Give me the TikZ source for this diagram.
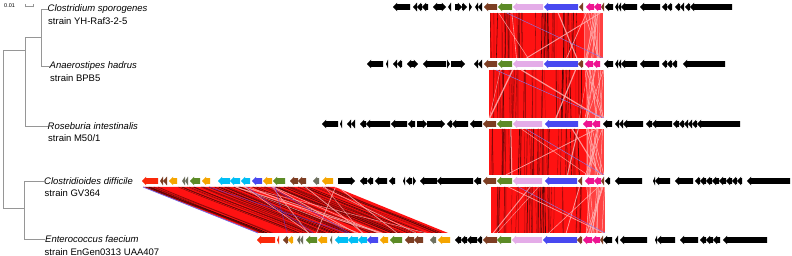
\documentclass[tikz,border=0pt]{standalone}
\usepackage{fontspec}
\setmainfont{Liberation Sans}
\definecolor{bk}{RGB}{0,0,0}
\definecolor{br}{RGB}{125,62,35}
\definecolor{gn}{RGB}{92,139,38}
\definecolor{lv}{RGB}{228,172,232}
\definecolor{bl}{RGB}{72,72,240}
\definecolor{mg}{RGB}{238,20,145}
\definecolor{og}{RGB}{245,165,0}
\definecolor{cy}{RGB}{0,190,245}
\definecolor{gy}{RGB}{110,112,95}
\definecolor{rd}{RGB}{250,40,10}
\definecolor{cmpred}{RGB}{255,18,18}
\definecolor{pinkline}{RGB}{255,175,175}
\definecolor{treegray}{RGB}{150,150,150}
\newcommand\gene[5]{%
 \pgfmathsetmacro\hl{min(4.2,#2-#1)}%
 \ifnum#3>0
  \fill[#4] (#2,#5) -- ++(-\hl,-4.4) -- ++(0,1.5) -- (#1,#5-2.9) -- (#1,#5+2.9) -- (#2-\hl,#5+2.9) -- ++(0,1.5) -- cycle;
 \else
  \fill[#4] (#1,#5) -- ++(\hl,-4.4) -- ++(0,1.5) -- (#2,#5-2.9) -- (#2,#5+2.9) -- (#1+\hl,#5+2.9) -- ++(0,1.5) -- cycle;
 \fi}
\newcommand\gtrack[2]{\foreach \a/\b/\d/\c in {#2} {\gene{\a}{\b}{\d}{\c}{#1}}}
\newcommand\cblock[4]{%
 \fill[cmpred] (#1,#3) rectangle (#2,#4);
 \fill[cmpred!80!white] (#2-18,#3) rectangle (#2,#4);
 \begin{scope}
 \clip (#1,#3) rectangle (#2,#4);
 \foreach \i in {1,...,38}{
   \pgfmathsetmacro\u{#1+rnd*(#2-#1-18)}
   \pgfmathsetmacro\v{\u+(rnd-0.5)*3}
   \pgfmathsetmacro\w{0.2+rnd*0.6}
   \pgfmathtruncatemacro\s{20+rnd*60}
   \draw[line width=\w pt, cmpred!\s!black] (\u,#3) -- (\v,#4);
 }
 \foreach \i in {1,...,12}{
   \pgfmathsetmacro\u{#2-19+rnd*19}
   \pgfmathsetmacro\v{#2-19+rnd*19}
   \draw[line width=0.5pt, pinkline] (\u,#3) -- (\v,#4);
 }
 \foreach \i in {1,...,5}{
   \pgfmathsetmacro\u{#1+rnd*(#2-#1)}
   \pgfmathsetmacro\v{#1+rnd*(#2-#1)}
   \pgfmathsetmacro\w{0.3+rnd*1.0}
   \draw[line width=\w pt, pinkline, opacity=0.85] (\u,#3) -- (\v,#4);
 }
 \draw[line width=0.4pt, bl!70!white] (#1+rnd*40,#3) -- (#2,#4);
 \end{scope}}
\begin{document}
\begin{tikzpicture}[x=1pt,y=-1pt,
  tree/.style={draw=treegray, line width=0.6pt},
  lbl/.style={anchor=west, inner sep=0pt, font=\fontsize{9.5}{11}\selectfont},
  sp/.style={lbl, font=\fontsize{9.5}{11}\selectfont\itshape}]
\useasboundingbox (0,0) rectangle (792,256);
\fill[white] (0,0) rectangle (792,256);
\pgfmathsetseed{11}
% ---------- scale bar ----------
\node[anchor=west, inner sep=0pt, font=\fontsize{5.5}{6}\selectfont] (scl) at (4,6) {0.01};
\coordinate (sa) at (25,6); \coordinate (sb) at (33,6);
\draw[treegray, line width=0.5pt] (sa) -- (sb);
\draw[treegray, line width=0.5pt] ([yshift=-1.5pt]sa) -- ([yshift=1.5pt]sa);
\draw[treegray, line width=0.5pt] ([yshift=-1.5pt]sb) -- ([yshift=1.5pt]sb);
% ---------- labels ----------
\node[sp]  (l1)  at (47.5,9)   {Clostridium sporogenes};
\node[lbl] (s1)  at (48,21)    {strain YH-Raf3-2-5};
\node[sp]  (l2)  at (49.5,66)  {Anaerostipes hadrus};
\node[lbl] (s2)  at (50,78.5)  {strain BPB5};
\node[sp]  (l3)  at (47.5,126) {Roseburia intestinalis};
\node[lbl] (s3)  at (48,138)   {strain M50/1};
\node[sp]  (l4)  at (44,181.5) {Clostridioides difficile};
\node[lbl] (s4)  at (44.5,193.5) {strain GV364};
\node[sp]  (l5)  at (45,239.5) {Enterococcus faecium};
\node[lbl] (s5)  at (44.5,252) {strain EnGen0313 UAA407};
% ---------- tree ----------
\coordinate (n2) at (41,37.5);
\coordinate (n1t) at (25,37.5);
\coordinate (n1) at (25,50);
\coordinate (n3) at (24,208);
\coordinate (n0) at (3,50);
\draw[tree] (n2) |- (l1.west);
\draw[tree] (n2) |- (l2.west);
\draw[tree] (n1t) -- (n2);
\draw[tree] (n1t) |- (l3.west);
\draw[tree] (n3) |- (l4.west);
\draw[tree] (n3) |- (l5.west);
\draw[tree] (n1) -- (n0) |- (n3);
% ---------- comparison blocks ----------
\cblock{490}{603}{13}{58}
\cblock{489}{604}{70}{118}
\cblock{489}{604}{129}{175}
\cblock{491}{605}{187}{233}
% big ribbon
\coordinate (pa) at (143,187); \coordinate (pb) at (335,187);
\coordinate (pc) at (448,233); \coordinate (pd) at (258,233);
\fill[cmpred] (pa) -- (pb) -- (pc) -- (pd) -- cycle;
\begin{scope}
\clip (pa) -- (pb) -- (pc) -- (pd) -- cycle;
\foreach \i in {1,...,65}{
  \pgfmathsetmacro\t{rnd}
  \pgfmathsetmacro\u{143+\t*192}
  \pgfmathsetmacro\v{258+\t*190+(rnd-0.5)*10}
  \pgfmathsetmacro\w{0.2+rnd*0.6}
  \pgfmathtruncatemacro\s{20+rnd*60}
  \draw[line width=\w pt, cmpred!\s!black] (\u,187) .. controls (\u+30,200) and (\v-30,220) .. (\v,233);
}
\foreach \i in {1,...,14}{
  \pgfmathsetmacro\u{200+rnd*140}
  \pgfmathsetmacro\v{300+rnd*145}
  \pgfmathsetmacro\w{0.3+rnd*0.7}
  \draw[line width=\w pt, pinkline, opacity=0.85] (\u,187) -- (\v,233);
}
\foreach \i in {1,...,4}{
  \pgfmathsetmacro\u{150+rnd*150}
  \pgfmathsetmacro\v{280+rnd*150}
  \draw[line width=0.4pt, bl!80!red] (\u,187) -- (\v,233);
}
\end{scope}
\draw[line width=0.7pt, bl!80!white] (pa) -- (pd);
% ---------- gene tracks ----------
\gtrack{7}{393/410/0/bk, 413/417/0/bk, 417/422/0/bk, 422/428/0/bk, 433/440/0/bk, 440/446/1/bk, 448/451/0/bk, 455/462/1/bk, 462/467/1/bk, 469/472/1/bk, 475/478/0/bk, 478/482/0/bk, 484/497/0/br, 498/512/0/gn, 513/543/0/lv, 544/578/0/bl, 579/583/0/br, 586/594/0/mg, 594/601/0/mg, 601/604/0/br, 605/613/0/bk, 615/618/0/bk, 618/621/0/bk, 621/637/0/bk, 640/660/0/bk, 662/667/0/bk, 667/672/0/bk, 675/680/0/bk, 680/684/0/bk, 685/690/0/bk, 690/732/0/bk}
\gtrack{64}{367/383/0/bk, 386/388/0/bk, 393/397/0/bk, 397/402/0/bk, 407/412/0/bk, 412/418/1/bk, 423/446/0/bk, 447/450/1/bk, 451/465/1/bk, 474/478/0/bk, 478/482/0/bk, 484/497/0/br, 498/512/0/gn, 513/543/0/lv, 544/578/0/bl, 578/583/0/br, 585/593/0/mg, 593/600/0/mg, 604/613/0/bk, 615/618/0/bk, 618/621/0/bk, 621/637/0/bk, 640/659/0/bk, 662/667/0/bk, 667/672/0/bk, 672/677/0/bk, 683/725/0/bk}
\gtrack{124}{322/338/0/bk, 340/342/0/bk, 347/351/0/bk, 351/355/0/bk, 360/366/0/bk, 366/390/0/bk, 391/407/0/bk, 408/415/0/bk, 417/427/1/bk, 427/445/1/bk, 447/452/0/bk, 452/468/0/bk, 470/482/0/bk, 483/496/0/br, 497/512/0/gn, 513/542/0/lv, 545/578/0/bl, 583/592/0/mg, 592/600/0/mg, 603/612/0/bk, 615/619/0/bk, 619/623/0/bk, 623/643/0/bk, 646/652/0/bk, 652/672/0/bk, 673/679/0/bk, 679/684/0/bk, 684/688/0/bk, 688/692/0/bk, 692/697/0/bk, 697/740/0/bk}
\gtrack{181}{142/158/0/rd, 160/163/0/br, 163/167/0/br, 169/177/0/og, 182/185/0/gy, 185/188/0/gy, 190/200/0/gn, 202/210/0/og, 218/230/0/cy, 230/240/0/cy, 241/250/0/cy, 252/262/0/bl, 263/272/0/og, 273/285/0/gn, 290/298/0/br, 298/306/0/br, 313/319/0/gy, 322/333/0/og, 338/355/1/bk, 360/367/0/bk, 367/373/0/bk, 375/387/0/bk, 389/395/0/bk, 403/405/0/bk, 406/412/0/bk, 413/416/1/bk, 420/437/0/bk, 437/473/0/bk, 474/481/0/bk, 483/496/0/br, 497/512/0/gn, 513/542/0/lv, 545/577/0/bl, 578/582/0/br, 585/594/0/mg, 594/601/0/mg, 601/604/0/br, 605/610/0/bk, 615/642/0/bk, 653/655/0/bk, 655/670/0/bk, 675/693/0/bk, 695/700/0/bk, 700/706/0/bk, 706/712/0/bk, 712/719/0/bk, 719/726/0/bk, 726/732/0/bk, 732/737/0/bk, 737/742/0/bk, 747/790/0/bk}
\gtrack{240}{257/275/0/rd, 277/279/0/rd, 283/288/0/br, 288/293/0/og, 297/300/0/gy, 300/303/0/gy, 306/317/0/gn, 318/327/0/og, 330/332/0/gy, 335/348/0/cy, 348/358/0/cy, 358/367/0/cy, 367/378/0/bl, 380/388/0/og, 390/402/0/gn, 405/414/0/br, 414/423/0/br, 430/436/0/gy, 438/450/0/og, 455/461/0/bk, 461/467/0/bk, 467/477/0/bk, 477/482/0/bk, 483/497/0/br, 497/511/0/gn, 512/542/0/lv, 543/577/0/bl, 577/582/0/br, 583/592/0/mg, 592/600/0/mg, 600/603/0/br, 603/612/0/bk, 615/618/0/bk, 620/647/0/bk, 655/657/0/bk, 657/675/0/bk, 680/698/0/bk, 700/706/0/bk, 706/713/0/bk, 713/720/0/bk, 723/767/0/bk}
\end{tikzpicture}
\end{document}
